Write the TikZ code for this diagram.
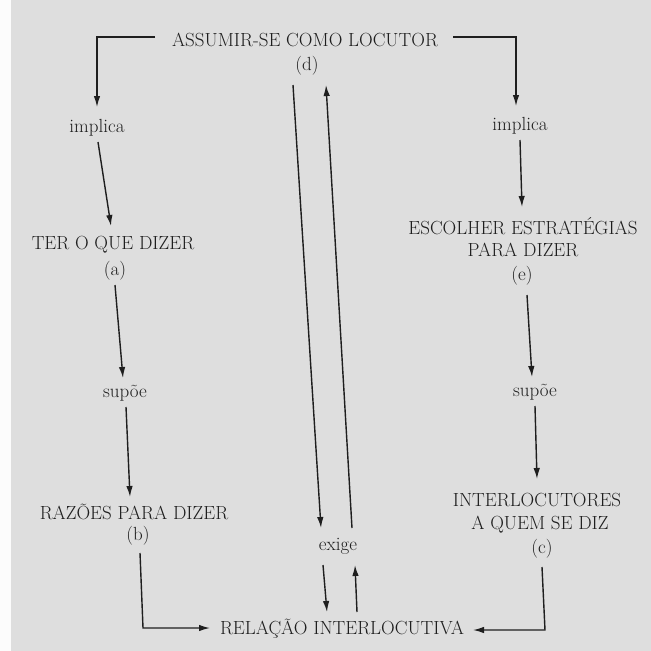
\documentclass[tikz,border=0pt]{standalone}
\usepackage{fontspec}
\usetikzlibrary{arrows.meta}
\definecolor{paper}{RGB}{222,222,222}
\definecolor{ink}{RGB}{30,30,30}
\tikzset{
  lbl/.style={inner sep=0pt, anchor=base, text=ink, font=\fontsize{19}{22}\selectfont\addfontfeatures{FakeBold=1.2}},
  arr/.style={draw=ink, line width=1.4pt, -{Latex[length=11pt,width=6.5pt]}},
  ln/.style={draw=ink, line width=1.4pt}
}
\begin{document}
\begin{tikzpicture}[x=1pt,y=-1pt]
\useasboundingbox (0,0) rectangle (651,651);
\fill[paper] (0,0) rectangle (651,651);
\fill[white!92!paper] (0,0) rectangle (11,651);

% nodes
\node[lbl] (title) at (305,46.5) {ASSUMIR-SE COMO LOCUTOR};
\node[lbl] (d) at (307,70) {(d)};
\node[lbl] (impL) at (97,132) {implica};
\node[lbl] (impR) at (520,130) {implica};
\node[lbl] (ter) at (113,249.5) {TER O QUE DIZER};
\node[lbl] (a) at (115,275) {(a)};
\node[lbl] (supL) at (125,397) {supõe};
\node[lbl] (raz) at (134,519.5) {RAZÕES PARA DIZER};
\node[lbl] (b) at (138,540) {(b)};
\node[lbl] (esc) at (523,234.5) {ESCOLHER ESTRATÉGIAS};
\node[lbl] (para) at (523,256.5) {PARA DIZER};
\node[lbl] (e) at (522,280) {(e)};
\node[lbl] (supR) at (535,396) {supõe};
\node[lbl] (inter) at (537,506.5) {INTERLOCUTORES};
\node[lbl] (quem) at (540,529.5) {A QUEM SE DIZ};
\node[lbl] (c) at (542,553) {(c)};
\node[lbl] (exige) at (338,550) {exige};
\node[lbl] (rel) at (342,634.5) {RELAÇÃO INTERLOCUTIVA};

% top brackets
\draw[arr] ([shift={(-150,-9.5)}]title.base) -| ([shift={(0,-25)}]impL.base);
\draw[arr] ([shift={(148,-9.5)}]title.base) -| ([shift={(-4,-24)}]impR.base);

% left column
\draw[arr] ([shift={(1,10)}]impL.base) -- ([shift={(-2,-23.5)}]ter.base);
\draw[arr] ([shift={(0,10)}]a.base) -- ([shift={(-2,-19)}]supL.base);
\draw[arr] ([shift={(1,10)}]supL.base) -- ([shift={(-4,-22.5)}]raz.base);
\draw[arr] ([shift={(2,13)}]b.base) -- ([shift={(-199,-6.5)}]rel.base) -- ([shift={(-132,-6.5)}]rel.base);

% right column
\draw[arr] ([shift={(0,10)}]impR.base) -- ([shift={(-1,-27.5)}]esc.base);
\draw[arr] ([shift={(5,15)}]e.base) -- ([shift={(-3,-19)}]supR.base);
\draw[arr] ([shift={(0,10)}]supR.base) -- ([shift={(0,-27.5)}]inter.base);
\draw[arr] ([shift={(0,14)}]c.base) -- ([shift={(203,-4.5)}]rel.base) -- ([shift={(131,-4.5)}]rel.base);

% centre
\draw[arr] ([shift={(-14,15)}]d.base) -- ([shift={(-17,-22)}]exige.base);
\draw[arr] ([shift={(14,-22)}]exige.base) -- ([shift={(19,15)}]d.base);
\draw[arr] ([shift={(-15,15)}]exige.base) -- ([shift={(-15,-22.5)}]rel.base);
\draw[arr] ([shift={(15,-22.5)}]rel.base) -- ([shift={(17,15)}]exige.base);
\end{tikzpicture}
\end{document}
